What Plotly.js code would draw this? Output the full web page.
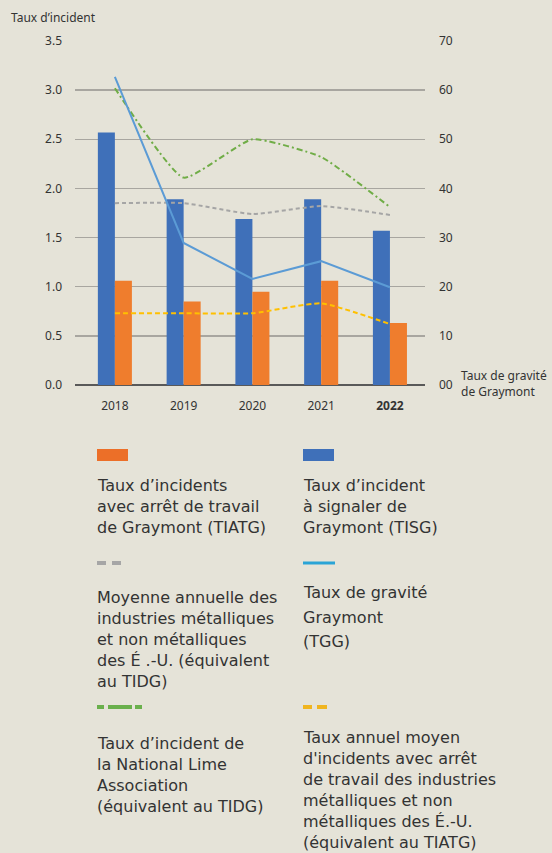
<!DOCTYPE html>
<html>
<head>
<meta charset="utf-8">
<script src="https://cdn.plot.ly/plotly-3.0.1.min.js"></script>
<style>html,body{margin:0;padding:0;background:#e5e3d8;}#chart{width:552px;height:853px;}</style>
</head>
<body>
<div id="chart"></div>
<script>
// ---- Data ----
const years = ['2018', '2019', '2020', '2021', '2022'];
const yearLabels = ['2018', '2019', '2020', '2021', '<b>2022</b>'];
const tisg = [2.57, 1.89, 1.69, 1.89, 1.57];          // Taux d'incident à signaler de Graymont
const tiatg = [1.06, 0.85, 0.95, 1.06, 0.63];         // Taux d'incidents avec arrêt de travail
const usTidg = [1.85, 1.85, 1.74, 1.82, 1.73];        // Moyenne annuelle É.-U. (équiv. TIDG)
const nlaTidg = [3.02, 2.11, 2.50, 2.32, 1.81];       // National Lime Association
const usTiatg = [0.73, 0.73, 0.73, 0.83, 0.62];       // Taux annuel moyen É.-U. (équiv. TIATG)
const tgg = [62.7, 28.9, 21.6, 25.2, 19.9];           // Taux de gravité Graymont (axe droit)
const leftTicks = [0, 0.5, 1, 1.5, 2, 2.5, 3, 3.5];
const rightTicks = [0, 10, 20, 30, 40, 50, 60, 70];
const rightTickText = ['00', '10', '20', '30', '40', '50', '60', '70'];

const legendItems = [
  {col: 0, kind: 'bar', color: '#ec6f28', lines: ['Taux d\u2019incidents', 'avec arrêt de travail', 'de Graymont (TIATG)']},
  {col: 1, kind: 'bar', color: '#3f70b9', lines: ['Taux d\u2019incident', 'à signaler de', 'Graymont (TISG)']},
  {col: 0, kind: 'gray', color: '#a6a6a6', lines: ['Moyenne annuelle des', 'industries métalliques', 'et non métalliques', 'des É .-U. (équivalent', 'au TIDG)']},
  {col: 1, kind: 'blue', color: '#2aa4d6', lines: ['Taux de gravité', 'Graymont', '(TGG)']},
  {col: 0, kind: 'green', color: '#6ab04c', lines: ['Taux d\u2019incident de', 'la National Lime', 'Association', '(équivalent au TIDG)']},
  {col: 1, kind: 'yellow', color: '#f0b51f', lines: ['Taux annuel moyen', 'd\'incidents avec arrêt', 'de travail des industries', 'métalliques et non', 'métalliques des É.-U.', '(équivalent au TIATG)']}
];

// ---- Geometry helpers (pixel -> paper) ----
const L = 75, R = 425, T = 41, B = 385;
const px2x = p => (p - L) / (R - L);
const px2y = p => (B - p) / (B - T);

const FONT = '"Noto Sans", Lato, sans-serif';
const LFONT = '"DejaVu Sans", "Noto Sans", sans-serif';
const txt = '#333333';

const traces = [
  {type: 'bar', x: years, y: tisg, name: 'TISG', marker: {color: '#3f70b9'}, yaxis: 'y'},
  {type: 'bar', x: years, y: tiatg, name: 'TIATG', marker: {color: '#ef7d2d'}, yaxis: 'y'},
  {type: 'scatter', mode: 'lines', x: years, y: usTidg, name: 'US TIDG', yaxis: 'y',
   line: {color: '#a5a5a5', width: 2, dash: '4px,3px', shape: 'spline', smoothing: 0.5}},
  {type: 'scatter', mode: 'lines', x: years, y: usTiatg, name: 'US TIATG', yaxis: 'y',
   line: {color: '#ffc000', width: 2, dash: '5px,3px', shape: 'spline', smoothing: 0.5}},
  {type: 'scatter', mode: 'lines', x: years, y: nlaTidg, name: 'NLA', yaxis: 'y',
   line: {color: '#70ad47', width: 2, dash: '6px,3px,2px,3px', shape: 'spline', smoothing: 0.45}},
  {type: 'scatter', mode: 'lines', x: years, y: tgg, name: 'TGG', yaxis: 'y2',
   line: {color: '#5b9bd5', width: 2}}
];

const shapes = [];
const annotations = [];

annotations.push({xref: 'paper', yref: 'paper', x: px2x(9), y: px2y(17), xanchor: 'left', yanchor: 'middle',
  text: 'Taux d\u2019incident', showarrow: false, font: {family: FONT, size: 12, color: txt}});
annotations.push({xref: 'paper', yref: 'paper', x: px2x(459), y: px2y(383), xanchor: 'left', yanchor: 'middle',
  text: 'Taux de gravité<br>de Graymont', align: 'left', showarrow: false, font: {family: FONT, size: 12, color: txt}});

// legend layout
const colX = [97, 303];
const swatchY = [455, 563, 707];
const textBase = [
  [491, 512, 533],
  [491, 512, 533],
  [603, 624, 645, 666, 687],
  [598, 623, 647],
  [749, 770, 791, 812],
  [743, 764, 785, 806, 827, 848]
];
const LFS = 16;
legendItems.forEach((it, i) => {
  const row = Math.floor(i / 2);
  const x0 = colX[it.col];
  const sy = swatchY[row];
  const rect = (a, b, h) => shapes.push({type: 'rect', xref: 'paper', yref: 'paper',
    x0: px2x(a), x1: px2x(b), y0: px2y(sy - h / 2), y1: px2y(sy + h / 2),
    fillcolor: it.color, line: {width: 0}});
  if (it.kind === 'bar') rect(x0, x0 + 31, 12);
  else if (it.kind === 'gray') { rect(x0, x0 + 9, 4); rect(x0 + 15, x0 + 24, 4); }
  else if (it.kind === 'blue') rect(x0, x0 + 32, 3);
  else if (it.kind === 'green') { rect(x0, x0 + 7, 4); rect(x0 + 11, x0 + 35, 4); rect(x0 + 38, x0 + 45, 4); }
  else if (it.kind === 'yellow') { rect(x0, x0 + 9, 4); rect(x0 + 14, x0 + 24, 4); }
  it.lines.forEach((ln, j) => {
    annotations.push({xref: 'paper', yref: 'paper', x: px2x(x0 - 1), y: px2y(textBase[i][j] - 0.33 * LFS),
      xanchor: 'left', yanchor: 'middle', text: ln, showarrow: false, borderpad: 0,
      font: {family: LFONT, size: LFS, color: txt}});
  });
});

const layout = {
  width: 552, height: 853,
  margin: {l: L, r: 552 - R, t: T, b: 853 - B},
  paper_bgcolor: '#e5e3d8', plot_bgcolor: '#e5e3d8',
  showlegend: false,
  barmode: 'group', bargap: 0.505, bargroupgap: 0,
  font: {family: FONT, color: txt},
  xaxis: {type: 'category', range: [-0.58, 4.51], tickvals: years, ticktext: yearLabels,
    showgrid: false, ticks: '', ticklabelstandoff: 12, tickfont: {size: 12, color: txt}, showline: false, zeroline: false},
  yaxis: {range: [0, 3.5], tickvals: leftTicks, tickformat: '.1f', showgrid: true, gridcolor: '#a8a6a0', gridwidth: 1.3,
    zeroline: true, zerolinecolor: '#595959', zerolinewidth: 1.5, ticks: '', ticklabelstandoff: 12,
    tickfont: {size: 12, color: txt}, showline: false},
  yaxis2: {overlaying: 'y', side: 'right', range: [0, 70], tickvals: rightTicks, ticktext: rightTickText,
    showgrid: false, zeroline: false, ticks: '', ticklabelstandoff: 13, tickfont: {size: 12, color: txt}, showline: false},
  shapes: shapes,
  annotations: annotations
};

Plotly.newPlot('chart', traces, layout, {displayModeBar: false, staticPlot: true});
</script>
</body>
</html>
